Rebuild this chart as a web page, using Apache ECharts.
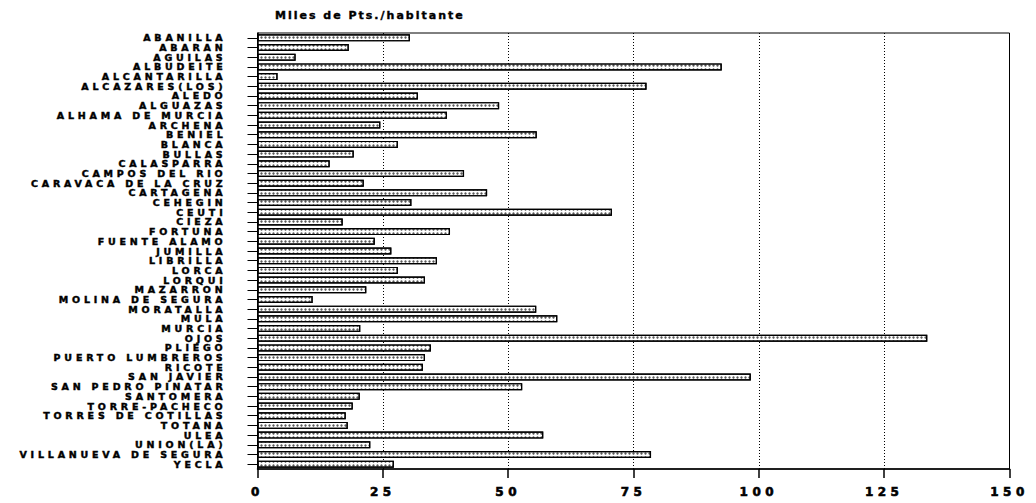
<!DOCTYPE html>
<html>
<head>
<meta charset="utf-8">
<script src="https://cdn.jsdelivr.net/npm/echarts@6/dist/echarts.min.js"></script>
<style>
  html, body { margin: 0; padding: 0; background: #fff; }
  #chart { width: 1036px; height: 503px; }
  #chart text[style*="9.5px"] { letter-spacing: 3.8px; }
  #chart text[style*="12px"] { letter-spacing: 4.5px; }
  #chart text[style*="11px"] { letter-spacing: 2px; }
</style>
</head>
<body>
<div id="chart"></div>
<script>
const titleText = 'Miles de Pts./habitante';

const municipios = [
  'ABANILLA', 'ABARAN', 'AGUILAS', 'ALBUDEITE', 'ALCANTARILLA', 'ALCAZARES(LOS)',
  'ALEDO', 'ALGUAZAS', 'ALHAMA DE MURCIA', 'ARCHENA', 'BENIEL', 'BLANCA', 'BULLAS',
  'CALASPARRA', 'CAMPOS DEL RIO', 'CARAVACA DE LA CRUZ', 'CARTAGENA', 'CEHEGIN',
  'CEUTI', 'CIEZA', 'FORTUNA', 'FUENTE ALAMO', 'JUMILLA', 'LIBRILLA', 'LORCA',
  'LORQUI', 'MAZARRON', 'MOLINA DE SEGURA', 'MORATALLA', 'MULA', 'MURCIA', 'OJOS',
  'PLIEGO', 'PUERTO LUMBREROS', 'RICOTE', 'SAN JAVIER', 'SAN PEDRO PINATAR',
  'SANTOMERA', 'TORRE-PACHECO', 'TORRES DE COTILLAS', 'TOTANA', 'ULEA', 'UNION(LA)',
  'VILLANUEVA DE SEGURA', 'YECLA'
];

const milesPtsHabitante = [
  30.4, 18.2, 7.6, 92.6, 4.0, 77.6,
  32.0, 48.2, 37.8, 24.5, 55.7, 28.0, 19.2,
  14.4, 41.2, 21.2, 45.8, 30.7,
  70.7, 17.0, 38.4, 23.4, 26.7, 35.8, 28.0,
  33.4, 21.7, 11.0, 55.6, 59.8, 20.5, 133.6,
  34.6, 33.4, 33.0, 98.4, 52.8,
  20.4, 19.0, 17.6, 18.0, 57.0, 22.5,
  78.5, 27.2
];

const xTicks = [0, 25, 50, 75, 100, 125, 150];

const chart = echarts.init(document.getElementById('chart'), null, { renderer: 'svg' });

chart.setOption({
  animation: false,
  backgroundColor: '#fff',
  title: {
    text: titleText,
    left: 270,
    top: 5,
    textStyle: {
      fontFamily: 'DejaVu Sans',
      fontWeight: 'bold',
      fontSize: 11,
      color: '#000',
      textBorderColor: '#000',
      textBorderWidth: 0.4
    }
  },
  grid: {
    left: 257.5,
    right: 26.5,
    top: 33,
    bottom: 34,
    show: true,
    borderColor: '#000',
    borderWidth: 1,
    containLabel: false
  },
  xAxis: {
    type: 'value',
    min: xTicks[0],
    max: xTicks[xTicks.length - 1],
    interval: xTicks[1] - xTicks[0],
    axisLine: { show: true, lineStyle: { color: '#000', width: 1.5 } },
    axisTick: { show: true, length: 9, lineStyle: { color: '#000', width: 1.5 } },
    axisLabel: {
      margin: 17,
      fontFamily: 'DejaVu Sans',
      fontWeight: 'bold',
      fontSize: 12,
      color: '#000',
      textBorderColor: '#000',
      textBorderWidth: 0.6
    },
    splitLine: {
      show: true,
      lineStyle: { color: '#000', type: [1, 2], width: 1 }
    }
  },
  yAxis: {
    type: 'category',
    data: municipios,
    inverse: true,
    axisLine: { show: true, lineStyle: { color: '#000', width: 1.5 } },
    axisTick: { show: true, length: 10, alignWithLabel: true, lineStyle: { color: '#000', width: 1 } },
    axisLabel: {
      margin: 31,
      interval: 0,
      fontFamily: 'DejaVu Sans',
      fontWeight: 'bold',
      fontSize: 9.5,
      color: '#000',
      textBorderColor: '#000',
      textBorderWidth: 0.45
    },
    splitLine: { show: false }
  },
  series: [{
    type: 'bar',
    data: milesPtsHabitante,
    barWidth: 7,
    itemStyle: {
      color: '#ffffff',
      borderColor: '#000',
      borderWidth: 1.2,
      decal: {
        symbol: 'circle',
        symbolSize: 0.8,
        dashArrayX: [3, 1],
        dashArrayY: [3, 1],
        color: 'rgba(0,0,0,0.65)',
        rotation: 0
      }
    }
  }]
});
</script>
</body>
</html>
